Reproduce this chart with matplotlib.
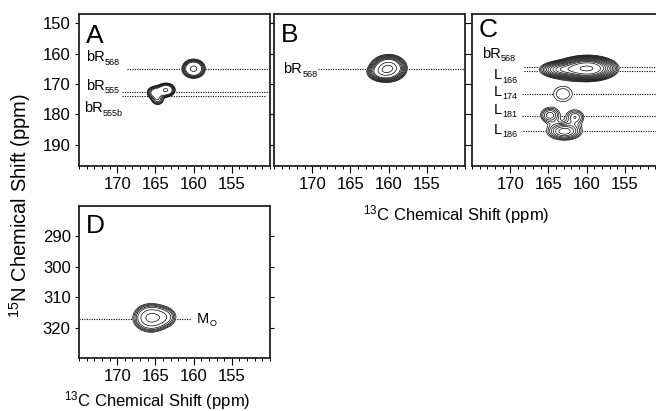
import numpy as np
import matplotlib
matplotlib.use("Agg")
import matplotlib.pyplot as plt
from matplotlib.ticker import MultipleLocator

plt.rcParams['font.family'] = ['Liberation Sans', 'DejaVu Sans']
plt.rcParams['mathtext.fontset'] = 'custom'
plt.rcParams['mathtext.rm'] = 'Liberation Sans'
plt.rcParams['mathtext.it'] = 'Liberation Sans:italic'
plt.rcParams['mathtext.bf'] = 'Liberation Sans:bold'

# ---------------- data ----------------
panel_names = ["A", "B", "C", "D"]
x_ticks = [170, 165, 160, 155]
y_ticks_top = [150, 160, 170, 180, 190]
y_ticks_D = [290, 300, 310, 320]

# peaks: 13C centre, 15N centre, 13C width, 15N width, relative intensity
A_px = [160.0, 163.6, 165.0, 164.7]
A_py = [165.0, 172.0, 172.9, 175.4]
A_sx = [0.75, 0.6, 0.6, 0.5]
A_sy = [1.55, 1.15, 1.2, 1.0]
A_amp = [1.0, 0.9, 0.6, 0.3]
A_levels = [0.12, 0.15, 0.19, 0.24, 0.3, 0.38, 0.85]

B_px = [160.0, 161.0]
B_py = [164.8, 166.2]
B_sx = [1.0, 0.9]
B_sy = [1.85, 1.4]
B_amp = [1.0, 0.3]
B_levels = [0.05, 0.065, 0.085, 0.11, 0.143, 0.186, 0.24, 0.31, 0.6, 0.92]

C_px = [159.9, 163.4, 163.1, 162.9, 164.8, 161.5]
C_py = [164.9, 165.3, 173.3, 185.6, 180.3, 180.9]
C_sx = [1.7, 1.4, 1.3, 1.35, 0.85, 0.85]
C_sy = [1.8, 1.4, 2.6, 1.7, 1.7, 1.7]
C_amp = [1.0, 0.35, 0.078, 0.22, 0.14, 0.12]
C_levels = [0.05, 0.0625, 0.078, 0.098, 0.122, 0.153, 0.19, 0.24, 0.3, 0.37, 0.46, 0.6, 0.92]

D_px = [165.6, 163.8]
D_py = [316.8, 316.5]
D_sx = [1.1, 0.9]
D_sy = [2.2, 1.8]
D_amp = [1.0, 0.35]
D_levels = [0.1, 0.13, 0.17, 0.22, 0.3, 0.5, 0.85]

# assignment lines: 15N position, 13C start, 13C end
A_lines_y = [165.0, 172.5, 174.1]
A_lines_x0 = [168.7, 169.4, 169.4]
A_lines_x1 = [150.0, 150.0, 150.6]
B_lines_y = [165.0]
B_lines_x0 = [169.3]
B_lines_x1 = [150.0]
C_lines_y = [164.5, 165.8, 173.4, 180.7, 185.5]
C_lines_x0 = [168.2, 168.2, 168.5, 168.5, 168.3]
C_lines_x1 = [150.0, 150.0, 150.0, 150.0, 150.0]
D_lines_y = [317.2]
D_lines_x0 = [175.0]
D_lines_x1 = [160.3]

# labels: main text, subscript, 13C position, 15N position (baseline)
A_labels = ["bR", "bR", "bR"]
A_subs = ["568", "555", "555b"]
A_lab_x = [174.1, 174.1, 174.4]
A_lab_y = [162.5, 172.0, 179.3]
B_labels = ["bR"]
B_subs = ["568"]
B_lab_x = [173.8]
B_lab_y = [166.5]
C_labels = ["bR", "L", "L", "L", "L"]
C_subs = ["568", "166", "174", "181", "186"]
C_lab_x = [173.7, 172.2, 172.2, 172.2, 172.2]
C_lab_y = [161.4, 168.5, 173.9, 179.9, 186.4]
D_labels = ["M"]
D_subs = ["O"]
D_lab_x = [159.6]
D_lab_y = [318.5]

xlim = (175, 150)
ylim_top = (197, 147)
ylim_D = (330, 280)

# ---------------- figure ----------------
W, H = 656, 411
fig = plt.figure(figsize=(W / 100, H / 100), dpi=100)


def ax_at(x0, y0, x1, y1):
    return fig.add_axes([x0 / W, 1 - y1 / H, (x1 - x0) / W, (y1 - y0) / H])


boxes = [(79, 14, 270, 166), (274, 14, 465, 166), (472, 14, 663, 166), (79, 206, 270, 358)]
letter_y = [0.935, 0.94, 0.975, 0.945]
peaks = [(A_px, A_py, A_sx, A_sy, A_amp, A_levels),
         (B_px, B_py, B_sx, B_sy, B_amp, B_levels),
         (C_px, C_py, C_sx, C_sy, C_amp, C_levels),
         (D_px, D_py, D_sx, D_sy, D_amp, D_levels)]
lines = [(A_lines_y, A_lines_x0, A_lines_x1), (B_lines_y, B_lines_x0, B_lines_x1),
         (C_lines_y, C_lines_x0, C_lines_x1), (D_lines_y, D_lines_x0, D_lines_x1)]
labels = [(A_labels, A_subs, A_lab_x, A_lab_y), (B_labels, B_subs, B_lab_x, B_lab_y),
          (C_labels, C_subs, C_lab_x, C_lab_y), (D_labels, D_subs, D_lab_x, D_lab_y)]

for i, name in enumerate(panel_names):
    ax = ax_at(*boxes[i])
    ylim = ylim_D if name == "D" else ylim_top
    xs = np.linspace(150, 175, 600)
    ys = np.linspace(min(ylim), max(ylim), 600)
    X, Y = np.meshgrid(xs, ys)
    px, py, sx, sy, amp, lev = peaks[i]
    Z = np.zeros_like(X)
    for cx, cy, wx, wy, a in zip(px, py, sx, sy, amp):
        Z += a * np.exp(-0.5 * (((X - cx) / wx) ** 2 + ((Y - cy) / wy) ** 2))
    ax.contourf(X, Y, Z, levels=[lev[0], 10], colors=["white"], zorder=2)
    ax.contour(X, Y, Z, levels=lev, colors="black", linewidths=0.5, zorder=3)

    ly, lx0, lx1 = lines[i]
    for yy, a0, a1 in zip(ly, lx0, lx1):
        ax.plot([a0, a1], [yy, yy], color="black", lw=0.8,
                linestyle=(0, (1, 1.2)), zorder=1)
    txt, subs, tx, ty = labels[i]
    for t, sb, a, b in zip(txt, subs, tx, ty):
        main = ax.text(a, b, t, fontsize=10.5, ha="left", va="baseline", zorder=4)
        ax.annotate(sb, xy=(1, 0), xycoords=main, xytext=(0.3, -0.3),
                    textcoords="offset points", fontsize=6.5, ha="left",
                    va="baseline", zorder=4)

    ax.text(0.035, letter_y[i], name, transform=ax.transAxes, fontsize=19,
            ha="left", va="top", zorder=4)

    ax.set_xlim(*xlim)
    ax.set_ylim(*ylim)
    ax.set_xticks(x_ticks)
    ax.xaxis.set_minor_locator(MultipleLocator(1))
    ax.set_yticks(y_ticks_D if name == "D" else y_ticks_top)
    ax.tick_params(axis="x", which="major", direction="out", length=5, width=0.8,
                   labelsize=12, pad=3)
    ax.tick_params(axis="x", which="minor", direction="out", length=2.5, width=0.7)
    ax.tick_params(axis="y", which="major", direction="out", length=3, width=0.8,
                   labelsize=12, pad=3, right=True)
    if name in ("B", "C"):
        ax.tick_params(axis="y", labelleft=False)
    for s in ax.spines.values():
        s.set_linewidth(1.3)
        s.set_color("#222222")

fig.text(456 / W, 1 - 215 / H, r"$^{13}$C Chemical Shift (ppm)", fontsize=12,
         ha="center", va="center")
fig.text(157 / W, 1 - 401 / H, r"$^{13}$C Chemical Shift (ppm)", fontsize=12,
         ha="center", va="center")
fig.text(20 / W, 1 - 205 / H, r"$^{15}$N Chemical Shift (ppm)", fontsize=14.5,
         ha="center", va="center", rotation=90)

fig.savefig("out.png", dpi=100)
